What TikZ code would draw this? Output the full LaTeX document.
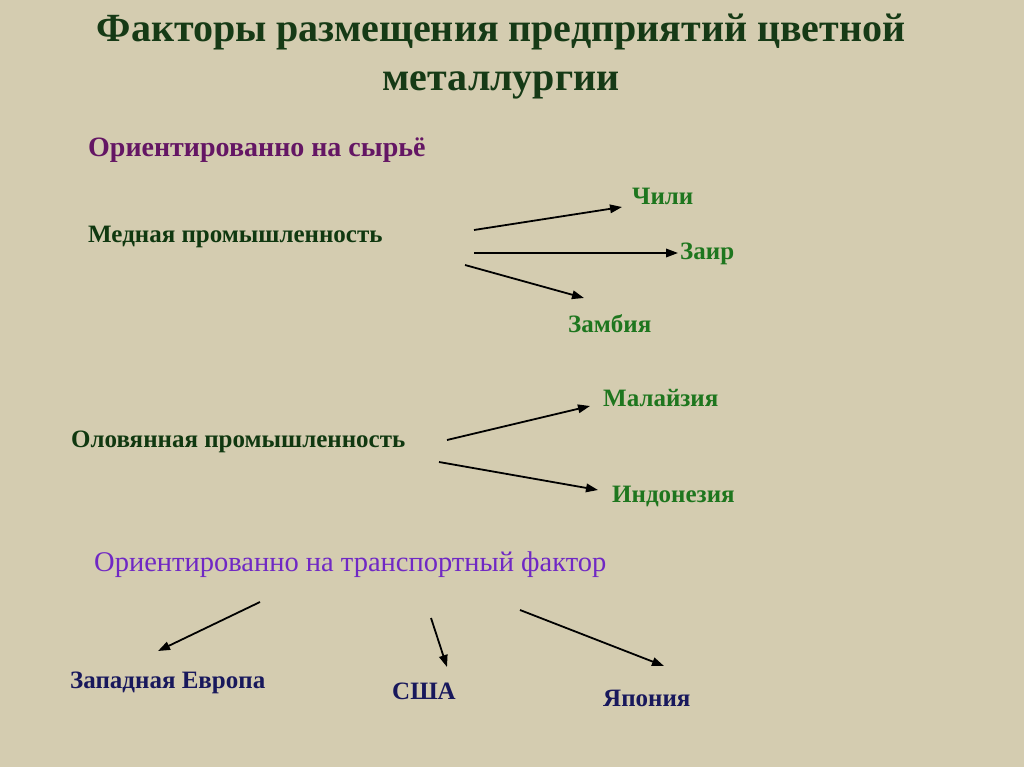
\documentclass[tikz,border=0pt]{standalone}
\usepackage{fontspec}
\setmainfont{Liberation Serif}
\usetikzlibrary{arrows.meta}
\definecolor{bg}{RGB}{212,204,176}
\definecolor{titlegreen}{RGB}{22,58,22}
\definecolor{darkgreen}{RGB}{16,56,16}
\definecolor{cgreen}{RGB}{30,118,30}
\definecolor{plum}{RGB}{100,22,100}
\definecolor{violet}{RGB}{112,40,196}
\definecolor{navy}{RGB}{24,24,92}
\tikzset{
  ttl/.style={font=\bfseries\fontsize{40}{49}\selectfont, text=titlegreen, align=center},
  head/.style={font=\bfseries\fontsize{28}{32}\selectfont, text=plum, anchor=west, inner sep=0pt},
  head2/.style={font=\fontsize{28.5}{32}\selectfont, text=violet, anchor=west, inner sep=0pt},
  ind/.style={font=\bfseries\fontsize{25}{28}\selectfont, text=darkgreen, anchor=west, inner sep=0pt},
  cty/.style={font=\bfseries\fontsize{25}{28}\selectfont, text=cgreen, anchor=west, inner sep=0pt},
  cty2/.style={font=\bfseries\fontsize{25}{28}\selectfont, text=navy, anchor=west, inner sep=0pt},
  arr/.style={-{Triangle[length=12pt,width=8.5pt]}, line width=1.8pt, black}
}
\begin{document}
\begin{tikzpicture}[x=1pt,y=-1pt]
\fill[bg] (0,0) rectangle (1024,767);
\useasboundingbox (0,0) rectangle (1024,767);
\node[ttl] (title) at (501,57) {Факторы размещения предприятий цветной\\металлургии};
\node[head] (raw) at (88,150) {Ориентированно на сырьё};
\node[ind] (copper) at (88,237) {Медная промышленность};
\node[cty] (chile) at (632,196) {Чили};
\node[cty] (zaire) at (680,254) {Заир};
\node[cty] (zambia) at (568,324) {Замбия};
\node[cty] (malay) at (603,398) {Малайзия};
\node[ind] (tin) at (71,442) {Оловянная промышленность};
\node[cty] (indo) at (612,496) {Индонезия};
\node[head2] (trans) at (94,565) {Ориентированно на транспортный фактор};
\node[cty2] (weur) at (70,683) {Западная Европа};
\node[cty2] (usa) at (392,691) {США};
\node[cty2] (japan) at (603,698) {Япония};
\coordinate (c1) at (474,230);
\coordinate (c2) at (474,253);
\coordinate (c3) at (465,265);
\coordinate (t1) at (447,440);
\coordinate (t2) at (439,462);
\coordinate (r1) at (260,602);
\coordinate (r2) at (431,618);
\coordinate (r3) at (520,610);
\draw[arr] (c1) -- ([shift={(-10,11)}]chile.west);
\draw[arr] (c2) -- ([shift={(-2,-1)}]zaire.west);
\draw[arr] (c3) -- ([shift={(16,-26)}]zambia.west);
\draw[arr] (t1) -- ([shift={(-13,8)}]malay.west);
\draw[arr] (t2) -- ([shift={(-14,-6)}]indo.west);
\draw[arr] (r1) -- ([shift={(88,-32)}]weur.west);
\draw[arr] (r2) -- ([shift={(55,-24)}]usa.west);
\draw[arr] (r3) -- ([shift={(61,-32)}]japan.west);
\end{tikzpicture}
\end{document}
